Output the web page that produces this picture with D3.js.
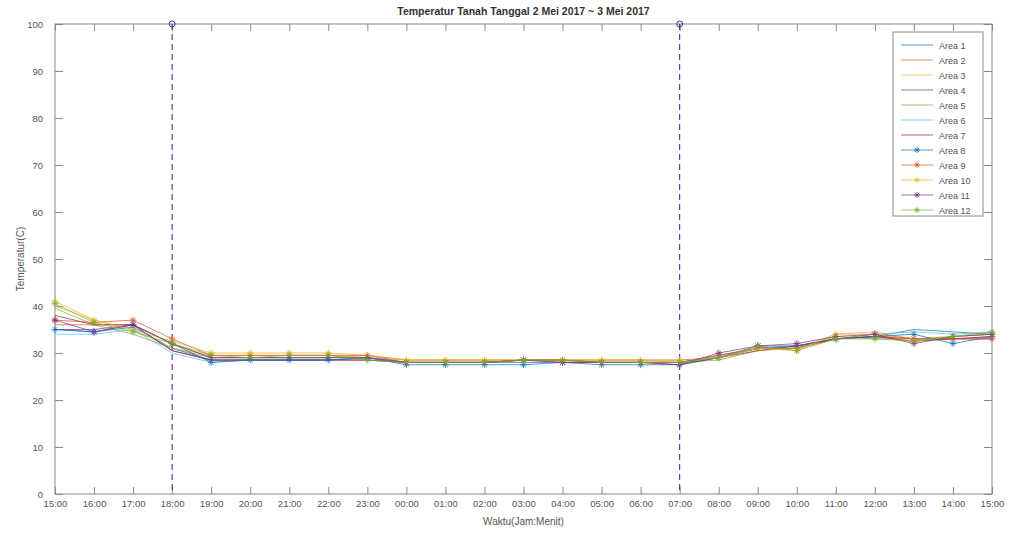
<!DOCTYPE html>
<html>
<head>
<meta charset="utf-8">
<script src="https://cdn.jsdelivr.net/npm/d3@7"></script>
<style>
  html, body { margin: 0; padding: 0; background: #ffffff; }
  svg { display: block; font-family: "Liberation Sans", Arial, sans-serif; }
</style>
</head>
<body>
<svg id="chart" width="1010" height="534"></svg>
<script>
// Hourly soil temperature readings, 15:00 (2 May) to 15:00 (3 May)
const timeLabels = ["15:00","16:00","17:00","18:00","19:00","20:00","21:00","22:00","23:00",
  "00:00","01:00","02:00","03:00","04:00","05:00","06:00","07:00","08:00","09:00","10:00",
  "11:00","12:00","13:00","14:00","15:00"];

const area1  = [35,34.5,35.5,31,28.5,28.5,28.5,28.5,29,28,28,28,28.5,28.5,28,28,28,29,31,31.5,33,33.5,35,34.5,34];
const area2  = [36,36,36,32,29,29,29,29,29.5,28.5,28.5,28.5,28.5,28.5,28.5,28.5,28.5,29,31,31,33,33.5,33,33,33.5];
const area3  = [40,37,35,31,29.5,29.5,29.5,29.5,29,28.5,28.5,28.5,28.5,28.5,28.5,28.5,28,29,31,31,34,34.5,33,33.5,34];
const area4  = [35,35,36,30.5,28.5,28.5,28.5,28.5,28.5,28,28,28,28,28,28,28,28,29.5,31,31.5,33,33.5,33,33,33.5];
const area5  = [39.5,36,34,31,29,29,29,29,29,28,28,28,28.5,28.5,28,28,28,28.5,30.5,31,33.5,33,33,33.5,34];
const area6  = [34,34,35,30,28,28.5,28.5,28.5,29,28,28,28,28,28,28,28,28,29,31,31.5,33,34,34.5,34,34.5];
const area7  = [38,36,36,30.5,28.5,28.5,28.5,28.5,28.5,28,28,28,28.5,28.5,28,28,27.5,29,30.5,31.5,33,33.5,32.5,33,33];
const area8  = [35,34.5,36,32,28,28.5,28.5,28.5,29,27.5,27.5,27.5,27.5,28,27.5,27.5,27.5,29,31.5,31.5,33,33.5,34,32,33.5];
const area9  = [37,36.5,37,33,29.5,29.5,29.5,29.5,29.5,28,28,28,28.5,28,28,28,28,29.5,31,31,33,34,33,33,33];
const area10 = [41,37,35,32.5,30,30,30,30,29.5,28.5,28.5,28.5,28.5,28.5,28.5,28.5,28.5,29,31,30.5,34,34,32.5,33.5,34];
const area11 = [37,34.5,36,32,29,29,29,29,29,28,28,28,28.5,28,28,28,27.5,30,31.5,32,33.5,34,32,33.5,34];
const area12 = [40.5,36.5,34.5,32,29.5,29,29.5,29.5,28.5,28,28,28,28.5,28.5,28,28,28,29,31.5,30.5,33,33,32.5,33.5,34.5];

const seriesNames = ["Area 1","Area 2","Area 3","Area 4","Area 5","Area 6",
  "Area 7","Area 8","Area 9","Area 10","Area 11","Area 12"];
const seriesValues = [area1,area2,area3,area4,area5,area6,area7,area8,area9,area10,area11,area12];
const seriesMarked = [false,false,false,false,false,false,false,true,true,true,true,true];

const yTicks = [0,10,20,30,40,50,60,70,80,90,100];
const markerTimes = ["18:00","07:00"];   // dashed reference lines

const palette = ["#0072BD","#D95319","#EDB120","#7E2F8E","#77AC30","#4DBEEE","#A2142F",
  "#0072BD","#D95319","#EDB120","#7E2F8E","#77AC30"];

const margin = {left: 55, right: 18, top: 24, bottom: 40};
const W = 1010, H = 534;
const svg = d3.select("#chart");

const x = d3.scalePoint().domain(timeLabels.map((d,i)=>i)).range([margin.left, W - margin.right]);
const y = d3.scaleLinear().domain([0,100]).range([H - margin.bottom, margin.top]);

const axisColor = "#8a8a8a";
const textColor = "#555";

// axes box
const x0 = margin.left, x1 = W - margin.right, y0 = H - margin.bottom, y1 = margin.top;
svg.append("rect").attr("x", x0).attr("y", y1).attr("width", x1 - x0).attr("height", y0 - y1)
  .attr("fill", "#fff").attr("stroke", axisColor).attr("stroke-width", 1);

// bottom axis (inward ticks) and top ticks
const xAxis = d3.axisBottom(x).tickSize(-7).tickPadding(6).tickFormat(i => timeLabels[i]);
const gx = svg.append("g").attr("transform", `translate(0,${y0})`).call(xAxis);
gx.select(".domain").remove();
gx.selectAll("line").attr("stroke", axisColor);
gx.selectAll("text").attr("fill", textColor).attr("font-size", 9.5);

const xTop = d3.axisTop(x).tickSize(-7).tickFormat("");
const gxt = svg.append("g").attr("transform", `translate(0,${y1})`).call(xTop);
gxt.select(".domain").remove();
gxt.selectAll("line").attr("stroke", axisColor);

// left axis and right ticks
const yAxis = d3.axisLeft(y).tickValues(yTicks).tickSize(-8).tickPadding(12);
const gy = svg.append("g").attr("transform", `translate(${x0},0)`).call(yAxis);
gy.select(".domain").remove();
gy.selectAll("line").attr("stroke", axisColor);
gy.selectAll("text").attr("fill", textColor).attr("font-size", 9.5);

const yRight = d3.axisRight(y).tickValues(yTicks).tickSize(-8).tickFormat("");
const gyr = svg.append("g").attr("transform", `translate(${x1},0)`).call(yRight);
gyr.select(".domain").remove();
gyr.selectAll("line").attr("stroke", axisColor);

// dashed vertical lines
markerTimes.forEach(t => {
  const xi = x(timeLabels.indexOf(t));
  svg.append("line").attr("x1", xi).attr("x2", xi).attr("y1", y(100)).attr("y2", y(0))
    .attr("stroke", "#1f2a8c").attr("stroke-width", 1).attr("stroke-dasharray", "6,4");
  svg.append("circle").attr("cx", xi).attr("cy", y(100)).attr("r", 3)
    .attr("fill", "none").attr("stroke", "#1f2a8c").attr("stroke-width", 0.9);
});

// asterisk marker path
function star(s) {
  const d = s * 0.7;
  return `M${-s},0L${s},0M0,${-s}L0,${s}M${-d},${-d}L${d},${d}M${-d},${d}L${d},${-d}`;
}

const line = d3.line().x((d,i)=>x(i)).y(d=>y(d));

const gLines = svg.append("g");
seriesValues.forEach((vals, k) => {
  gLines.append("path").datum(vals).attr("d", line)
    .attr("fill", "none").attr("stroke", palette[k]).attr("stroke-width", 1)
    .attr("stroke-opacity", 0.7);
  if (seriesMarked[k]) {
    gLines.selectAll(null).data(vals).enter().append("path")
      .attr("transform", (d,i)=>`translate(${x(i)},${y(d)})`)
      .attr("d", star(3.5)).attr("fill", "none")
      .attr("stroke", palette[k]).attr("stroke-width", 1).attr("stroke-opacity", 0.75);
  }
});

// title and axis labels
svg.append("text").attr("x", (x0 + x1)/2).attr("y", 15).attr("text-anchor", "middle")
  .attr("font-size", 10.5).attr("font-weight", "bold").attr("fill", "#333")
  .text("Temperatur Tanah Tanggal 2 Mei 2017 ~ 3 Mei 2017");
svg.append("text").attr("x", (x0 + x1)/2).attr("y", 525).attr("text-anchor", "middle")
  .attr("font-size", 10).attr("fill", textColor).text("Waktu(Jam:Menit)");
svg.append("text").attr("transform", `translate(24,${(y0 + y1)/2}) rotate(-90)`)
  .attr("text-anchor", "middle").attr("font-size", 10).attr("fill", textColor)
  .text("Temperatur(C)");

// legend
const lg = svg.append("g").attr("transform", "translate(893,32)");
lg.append("rect").attr("width", 90).attr("height", 184).attr("fill", "#fff")
  .attr("stroke", axisColor).attr("stroke-width", 1);
seriesNames.forEach((name, k) => {
  const ry = 13 + k * 15;
  lg.append("line").attr("x1", 8).attr("x2", 40).attr("y1", ry).attr("y2", ry)
    .attr("stroke", palette[k]).attr("stroke-width", 1).attr("stroke-opacity", 0.7);
  if (seriesMarked[k]) {
    lg.append("path").attr("transform", `translate(24,${ry})`).attr("d", star(3))
      .attr("fill", "none").attr("stroke", palette[k]).attr("stroke-opacity", 0.75);
  }
  lg.append("text").attr("x", 46).attr("y", ry + 3.5).attr("font-size", 9)
    .attr("fill", textColor).text(name);
});
</script>
</body>
</html>
